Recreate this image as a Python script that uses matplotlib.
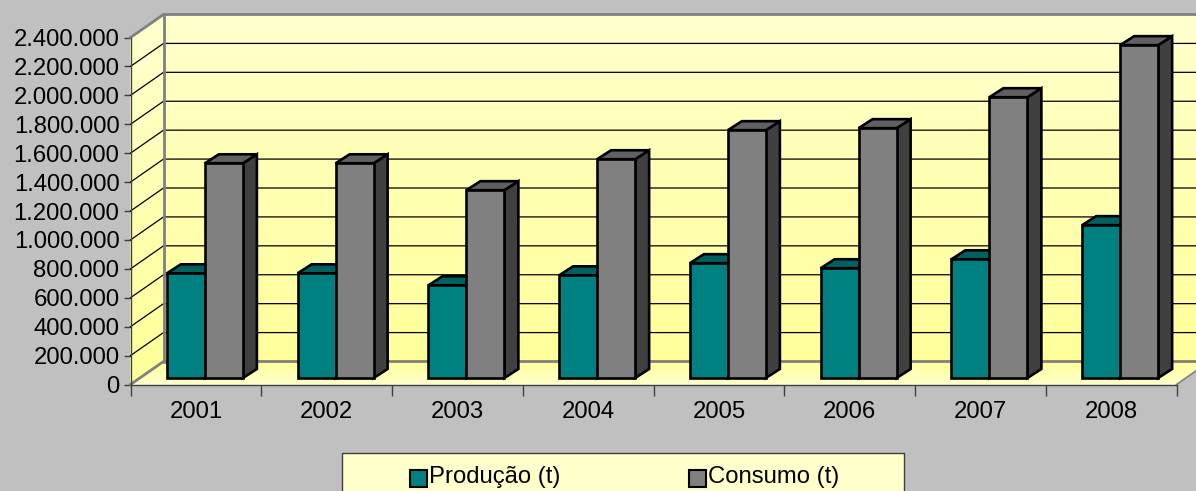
import matplotlib
matplotlib.use('Agg')
import matplotlib.pyplot as plt
import numpy as np
from matplotlib.colors import LinearSegmentedColormap
from matplotlib.patches import Polygon, Rectangle

years = ['2001', '2002', '2003', '2004', '2005', '2006', '2007', '2008']
producao = [724000, 724000, 641000, 710000, 794000, 759000, 821000, 1057000]
consumo = [1485000, 1485000, 1299000, 1513000, 1714000, 1728000, 1942000, 2302000]
y_ticks = list(range(0, 2400001, 200000))
y_labels = ['0'] + [f'{v:,}'.replace(',', '.') for v in y_ticks[1:]]

BG = '#C0C0C0'
W, H = 1196, 491
plt.rcParams['font.family'] = ['Liberation Sans', 'DejaVu Sans']
FS = 17.2
fig = plt.figure(figsize=(W / 100, H / 100), dpi=100, facecolor=BG)

L, R, B, T = 130.5, 1176.5, 384.5, 37.5
ax = fig.add_axes([L / W, 1 - B / H, (R - L) / W, (B - T) / H])
ax.set_xlim(0, 8)
ax.set_ylim(0, 2400000)
ax.patch.set_visible(False)
pxx = 8 / (R - L)
pxy = 2400000 / (B - T)
DX, DY = 33 * pxx, 23 * pxy
YM = 2400000
cmap = LinearSegmentedColormap.from_list('y', ['#FFFF99', '#FFFFCC'])


def quad(xs, ys, c):
    ax.pcolormesh(np.array(xs), np.array(ys), np.array(c), shading='gouraud',
                  cmap=cmap, vmin=0, vmax=1, clip_on=False, zorder=1, rasterized=True)


xr = 8 + 40 * pxx
# back wall, side wall, floor
quad([[DX, xr], [DX, xr]], [[DY, DY], [YM + DY, YM + DY]], [[0, 0], [1, 1]])
quad([[0, DX], [0, DX]], [[0, DY], [YM, YM + DY]], [[0, 0], [1, 1]])
quad([[0, 8], [DX, 8 + DX]], [[0, 0], [DY, DY]], [[1, 1], [0, 0]])

for v in y_ticks[1:-1]:
    ax.plot([0, DX, xr], [v, v + DY, v + DY], color='black', lw=0.9, clip_on=False, zorder=2)
GR = '#808080'
ax.plot([0, DX, xr], [YM, YM + DY, YM + DY], color=GR, lw=2, clip_on=False, zorder=3)
ax.plot([0, DX, xr], [0, DY, DY], color=GR, lw=2, clip_on=False, zorder=3)
ax.plot([DX, DX], [DY, YM + DY], color=GR, lw=2, clip_on=False, zorder=3)
ax.plot([8, 8 + DX], [0, DY], color=GR, lw=1.2, clip_on=False, zorder=3)

# bars
bw = 38 * pxx
fx, fy = 9 * pxx, 6.5 * pxy
bdx, bdy = 14 * pxx, 9 * pxy


def bar3d(x0, v, front, side, top):
    x, y = x0 + fx, fy
    kw = dict(edgecolor='black', lw=1.9, joinstyle='miter', clip_on=False, zorder=5)
    ax.add_patch(Polygon([(x + bw, y), (x + bw + bdx, y + bdy), (x + bw + bdx, y + v + bdy), (x + bw, y + v)],
                         facecolor=side, **kw))
    ax.add_patch(Polygon([(x, y + v), (x + bw, y + v), (x + bw + bdx, y + v + bdy), (x + bdx, y + v + bdy)],
                         facecolor=top, **kw))
    ax.add_patch(Rectangle((x, y), bw, v, facecolor=front, **kw))


for i, (p, c) in enumerate(zip(producao, consumo)):
    center = i + 0.5
    bar3d(center - bw, p, '#008080', '#004040', '#006060')
    bar3d(center, c, '#808080', '#404040', '#606060')

ax.set_xticks(range(9))
ax.set_xticklabels([])
ax.set_xticks(np.arange(8) + 0.5, years, minor=True)
ax.tick_params(axis='x', which='major', length=8, width=1, color='#404040')
ax.tick_params(axis='x', which='minor', length=0, pad=12, labelsize=FS, labelcolor='black')
ax.set_yticks(y_ticks, y_labels)
ax.tick_params(axis='y', length=5, width=1, color='#404040', pad=3, labelsize=FS, labelcolor='black')
for s in ['top', 'right']:
    ax.spines[s].set_visible(False)
for s in ['left', 'bottom']:
    ax.spines[s].set_color('#404040')
    ax.spines[s].set_linewidth(1)
    ax.spines[s].set_zorder(4)

# legend
fig.add_artist(Rectangle((341.5 / W, 1 - 500 / H), 562 / W, 47 / H, transform=fig.transFigure,
                         facecolor='#FFFFCC', edgecolor='#404040', lw=1))
for hx, tx, col, name in [(410, 429, '#008080', 'Produção (t)'), (689, 708, '#808080', 'Consumo (t)')]:
    fig.add_artist(Rectangle((hx / W, 1 - 487 / H), 17 / W, 17 / H, transform=fig.transFigure,
                             facecolor=col, edgecolor='black', lw=1.5))
    fig.text(tx / W, 1 - 477 / H, name, fontsize=FS, color='black', va='center', ha='left')

fig.savefig('out.png', dpi=100, facecolor=BG)
